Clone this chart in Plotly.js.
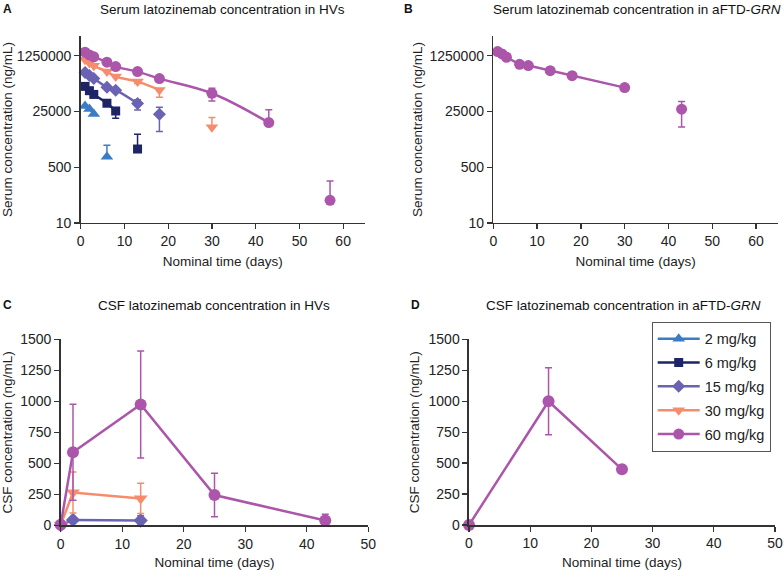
<!DOCTYPE html>
<html>
<head>
<meta charset="utf-8">
<script src="https://cdn.plot.ly/plotly-3.0.1.min.js"></script>
<style>
  html, body { margin: 0; padding: 0; background: #fff; }
  #graph { width: 784px; height: 570px; }
</style>
</head>
<body>
<div id="graph"></div>
<script>
// dose groups
var doseLabels = ['2 mg/kg', '6 mg/kg', '15 mg/kg', '30 mg/kg', '60 mg/kg'];

// panel A: serum, healthy volunteers (connected part + unconnected tail points)
var daysA2 = [1, 2, 3];
var serumA2 = [3.7e4, 3.0e4, 2.1e4];
var daysA2Tail = [6];
var serumA2Tail = [1.05e3];
var errA2Tail = [1.3e3];

var daysA6 = [1, 2, 3, 6, 8];
var serumA6 = [1.46e5, 1.08e5, 8.3e4, 4.48e4, 2.6e4];
var errA6Up = [0, 0, 0, 0, 4e3];
var errA6Down = [0, 0, 0, 0, 1.05e4];
var daysA6Tail = [13];
var serumA6Tail = [1.8e3];
var errA6Tail = [3.3e3];

var daysA15 = [1, 2, 3, 6, 8, 13];
var serumA15 = [3.9e5, 3.16e5, 2.56e5, 1.38e5, 1.12e5, 4.4e4];
var errA15Up = [0, 0, 0, 0, 0, 1.3e4];
var errA15Down = [0, 0, 0, 0, 0, 1.6e4];
var daysA15Tail = [18];
var serumA15Tail = [2.07e4];
var errA15TailUp = [1.3e4];
var errA15TailDown = [1.46e4];

var daysA30 = [1, 2, 3, 6, 8, 13, 18];
var serumA30 = [9.4e5, 7.6e5, 6.2e5, 4.12e5, 2.9e5, 2.04e5, 1.14e5];
var errA30Up = [0, 0, 0, 0, 0, 2.5e4, 1e4];
var errA30Down = [0, 0, 0, 0, 0, 2.5e4, 4.6e4];
var daysA30Tail = [30];
var serumA30Tail = [8.3e3];
var errA30Tail = [8e3];

var daysA60 = [1, 2, 3, 6, 8, 13, 18, 30, 43];
var serumA60 = [1.61e6, 1.33e6, 1.16e6, 7.98e5, 5.86e5, 4.12e5, 2.52e5, 9.0e4, 1.15e4];
var errA60Up = [0, 0, 0, 0, 0, 0, 2e4, 3.8e4, 1.7e4];
var errA60Down = [0, 0, 0, 0, 0, 0, 2e4, 3.8e4, 0];
var daysA60Tail = [57];
var serumA60Tail = [49];
var errA60Tail = [143];

// panel B: serum, aFTD-GRN, 60 mg/kg
var daysB = [1, 2, 3, 6, 8, 13, 18, 30];
var serumB = [1.68e6, 1.43e6, 1.13e6, 6.9e5, 6.3e5, 4.4e5, 3.1e5, 1.34e5];
var daysBTail = [43];
var serumBTail = [2.94e4];
var errBTail = [2.1e4];

// panel C: CSF, healthy volunteers
var daysC15 = [0, 2, 13];
var csfC15 = [3, 45, 40];
var errC15 = [0, 10, 38];
var daysC30 = [0, 2, 13];
var csfC30 = [5, 265, 218];
var errC30 = [35, 165, 122];
var daysC60 = [0, 2, 13, 25, 43];
var csfC60 = [5, 590, 975, 245, 40];
var errC60 = [0, 387, 431, 175, 50];

// panel D: CSF, aFTD-GRN, 60 mg/kg
var daysD = [0, 13, 25];
var csfD = [0, 1000, 450];
var errD = [0, 270, 0];

var colors = ['#3b7dc4', '#1d2566', '#6a63b3', '#f78c6c', '#ab56aa'];
var symbols = ['triangle-up', 'square', 'diamond', 'triangle-down', 'circle'];
var sizes = [11, 9, 10, 11, 11];

function errBar(i, up, down) {
    if (!up) return {visible: false};
    var e = {type: 'data', array: up, color: colors[i], thickness: 1.5, width: 3.5};
    if (down) { e.symmetric = false; e.arrayminus = down; }
    return e;
}

function series(i, x, y, ax, opts) {
    opts = opts || {};
    return {
        type: 'scatter',
        mode: opts.noLine ? 'markers' : 'lines+markers',
        x: x, y: y,
        xaxis: ax[0], yaxis: ax[1],
        name: doseLabels[i],
        legendgroup: 'g' + i,
        showlegend: !!opts.legend,
        cliponaxis: false,
        line: {color: colors[i], width: 2.5, shape: opts.spline ? 'spline' : 'linear', smoothing: 1},
        marker: {color: colors[i], symbol: symbols[i], size: sizes[i] + (opts.big || 0)},
        error_y: errBar(i, opts.up, opts.down)
    };
}

var A = ['x', 'y'], B = ['x2', 'y2'], C = ['x3', 'y3'], D = ['x4', 'y4'];

var traces = [
    series(0, daysA2, serumA2, A, {legend: true, spline: true}),
    series(1, daysA6, serumA6, A, {legend: true, spline: true, up: errA6Up, down: errA6Down}),
    series(2, daysA15, serumA15, A, {legend: true, spline: true, up: errA15Up, down: errA15Down}),
    series(3, daysA30, serumA30, A, {legend: true, spline: true, up: errA30Up, down: errA30Down}),
    series(4, daysA60, serumA60, A, {legend: true, spline: true, up: errA60Up, down: errA60Down}),
    series(0, daysA2Tail, serumA2Tail, A, {noLine: true, up: errA2Tail, down: [0]}),
    series(1, daysA6Tail, serumA6Tail, A, {noLine: true, up: errA6Tail, down: [0]}),
    series(2, daysA15Tail, serumA15Tail, A, {noLine: true, up: errA15TailUp, down: errA15TailDown}),
    series(3, daysA30Tail, serumA30Tail, A, {noLine: true, up: errA30Tail, down: [0]}),
    series(4, daysA60Tail, serumA60Tail, A, {noLine: true, up: errA60Tail, down: [0]}),
    series(4, daysB, serumB, B, {}),
    series(4, daysBTail, serumBTail, B, {noLine: true, up: errBTail}),
    series(2, daysC15, csfC15, C, {up: errC15, big: 1}),
    series(3, daysC30, csfC30, C, {up: errC30, big: 1}),
    series(4, daysC60, csfC60, C, {up: errC60, big: 1}),
    series(4, daysD, csfD, D, {up: errD, big: 1})
];

var font = 'Liberation Sans, Arial, sans-serif';
var tickFont = {family: font, size: 14, color: '#222'};

function xAxis(dom, anchor, max, standoff) {
    return {
        domain: dom, anchor: anchor, range: [0, max],
        tickvals: [0, 10, 20, 30, 40, 50, 60].filter(function (v) { return v <= max; }),
        showline: true, linecolor: '#333', linewidth: 1.5, mirror: false,
        ticks: 'outside', ticklen: 5, tickwidth: 1.3, tickcolor: '#333',
        showgrid: false, zeroline: false, tickfont: tickFont,
        title: {text: 'Nominal time (days)', font: {family: font, size: 13.5, color: '#222'}, standoff: standoff}
    };
}

function logAxis(dom, anchor) {
    return {
        domain: dom, anchor: anchor, type: 'log', range: [1, 6.7],
        tickvals: [10, 500, 25000, 1250000], ticktext: ['10', '500', '25000', '1250000'],
        showline: true, linecolor: '#333', linewidth: 1.5,
        ticks: 'outside', ticklen: 5, tickwidth: 1.3, tickcolor: '#333',
        showgrid: false, zeroline: false, tickfont: tickFont,
        title: {text: 'Serum concentration (ng/mL)', font: {family: font, size: 13.5, color: '#222'}, standoff: 3}
    };
}

function csfAxis(dom, anchor, standoff) {
    return {
        domain: dom, anchor: anchor, range: [0, 1500], dtick: 250,
        showline: true, linecolor: '#333', linewidth: 1.5,
        ticks: 'outside', ticklen: 5, tickwidth: 1.3, tickcolor: '#333',
        showgrid: false, zeroline: false, tickfont: tickFont,
        title: {text: 'CSF concentration (ng/mL)', font: {family: font, size: 13.5, color: '#222'}, standoff: standoff}
    };
}

function label(x, y, text, opts) {
    opts = opts || {};
    return {
        xref: 'paper', yref: 'paper', x: x / 784, y: 1 - y / 570,
        xanchor: opts.anchor || 'center', yanchor: 'middle', showarrow: false,
        text: text,
        font: {family: font, size: opts.size || 13.5, color: '#111', weight: opts.bold ? 'bold' : 'normal'}
    };
}

var layout = {
    width: 784, height: 570,
    margin: {l: 0, r: 0, t: 0, b: 0},
    paper_bgcolor: '#fff', plot_bgcolor: 'rgba(0,0,0,0)',
    font: {family: font, color: '#222'},
    xaxis: xAxis([0.1029, 0.4656], 'y', 65, 8),
    yaxis: logAxis([0.6088, 0.9368], 'x'),
    xaxis2: xAxis([0.6292, 0.9923], 'y2', 65, 8),
    yaxis2: logAxis([0.6088, 0.9368], 'x2'),
    xaxis3: xAxis([0.0774, 0.4698], 'y3', 50, 8),
    yaxis3: csfAxis([0.0781, 0.4047], 'x3', 8),
    xaxis4: xAxis([0.5982, 0.9885], 'y4', 50, 8),
    yaxis4: csfAxis([0.0789, 0.4047], 'x4', 6),
    showlegend: true,
    legend: {
        x: 651.7 / 784, y: 1 - 321.7 / 570, xanchor: 'left', yanchor: 'top',
        bordercolor: '#555', borderwidth: 1, bgcolor: '#fff',
        font: {family: font, size: 14.5, color: '#222'},
        traceorder: 'grouped', tracegroupgap: 2, itemwidth: 42
    },
    annotations: [
        label(8, 9, 'A', {bold: true, size: 12}),
        label(408, 9, 'B', {bold: true, size: 12}),
        label(7, 305, 'C', {bold: true, size: 12}),
        label(415, 305, 'D', {bold: true, size: 12}),
        label(222, 9, 'Serum latozinemab concentration in HVs'),
        label(637, 9, 'Serum latozinemab concentration in aFTD-<i>GRN</i>'),
        label(214, 305, 'CSF latozinemab concentration in HVs'),
        label(623, 305, 'CSF latozinemab concentration in aFTD-<i>GRN</i>')
    ]
};

Plotly.newPlot('graph', traces, layout, {displayModeBar: false, staticPlot: true});
</script>
</body>
</html>
